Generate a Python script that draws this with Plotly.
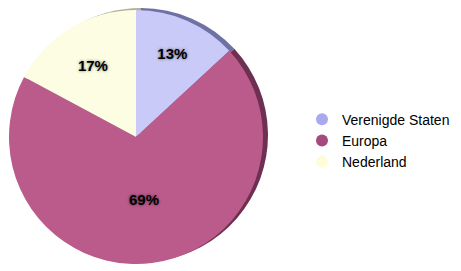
import plotly.graph_objects as go

labels = ["Verenigde Staten", "Europa", "Nederland"]
values = [13, 69, 17]
slice_colors = ["#c9caf7", "#bb5b8c", "#fdfde3"]
rim_colors = ["#6e71a3", "#6e3050", "#b0b094"]
legend_colors = ["#a9a9f2", "#a6497c", "#fdfdd8"]

W, H = 453, 263  # page body has an 8px margin

def dom(cx, cy_from_bottom, r):
    return dict(x=[(cx - r) / W, (cx + r) / W], y=[(cy_from_bottom - r) / H, (cy_from_bottom + r) / H])

fig = go.Figure()
# back (rim) pie for the 3D edge
fig.add_trace(go.Pie(
    labels=labels, values=values, sort=False, direction="clockwise", rotation=0,
    marker=dict(colors=rim_colors, line=dict(width=0)),
    textinfo="none", showlegend=False, hoverinfo="skip",
    domain=dom(133, 136, 127),
))
fig.add_trace(go.Pie(
    labels=labels, values=values, sort=False, direction="clockwise", rotation=0,
    marker=dict(colors=slice_colors, line=dict(width=0)),
    texttemplate="%{value}%", textposition="inside", insidetextorientation="horizontal",
    textfont=dict(family="Liberation Sans, Arial", size=15, color="black", weight="bold",
                  shadow="0px 0px 3px rgba(0,0,0,0.55)"),
    showlegend=False, hoverinfo="label+percent",
    domain=dom(128, 134, 127),
))
for lab, col in zip(labels, legend_colors):
    fig.add_trace(go.Scatter(
        x=[None], y=[None], mode="markers", name=lab,
        marker=dict(symbol="circle", size=15, color=col),
    ))

fig.update_layout(
    width=W, height=H, margin=dict(l=0, r=0, t=0, b=0),
    paper_bgcolor="white", plot_bgcolor="white",
    xaxis=dict(visible=False), yaxis=dict(visible=False),
    legend=dict(x=0.649, y=0.636, xanchor="left", yanchor="top",
                font=dict(family="Liberation Sans, Arial", size=14, color="black"),
                tracegroupgap=0, itemsizing="constant", bgcolor="rgba(0,0,0,0)"),
)
fig.write_html("out.html")
